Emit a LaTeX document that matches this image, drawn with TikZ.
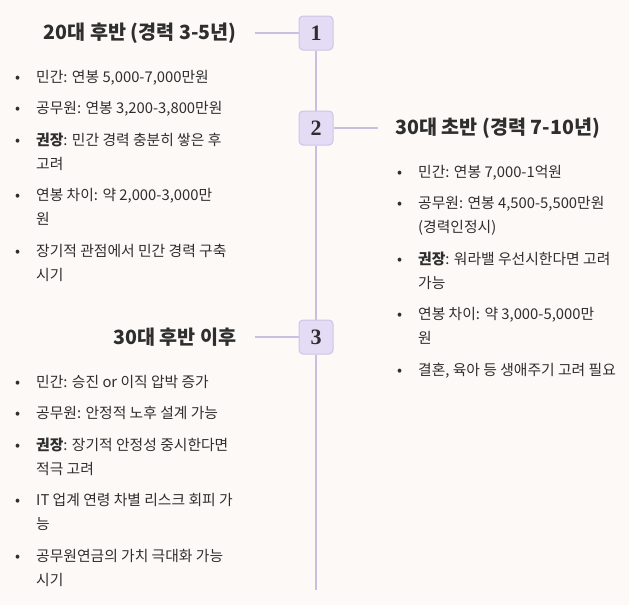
\documentclass[tikz,border=0pt]{standalone}
\usepackage{fontspec}
\setmainfont{Noto Sans CJK KR}
\newfontfamily\numfont{Liberation Serif}
\usetikzlibrary{positioning,backgrounds}

\definecolor{pagebg}{HTML}{FDF9F7}
\definecolor{boxfill}{HTML}{E3DCF4}
\definecolor{boxline}{HTML}{CFC4E8}
\definecolor{linkc}{HTML}{C9BFE0}
\definecolor{ink}{HTML}{2E2E2E}

% bullet and hanging indent for the item lines
\newcommand{\bl}{\makebox[21pt][l]{•}}
\newcommand{\ind}{\hspace*{21pt}}

\begin{document}
\begin{tikzpicture}[
  x=1pt, y=-1pt,
  every node/.style={align=left, text=ink},
  num/.style={draw=boxline, fill=boxfill, rounded corners=4pt, line width=1pt, minimum size=34pt, inner sep=0pt, font=\numfont\bfseries\fontsize{22}{22}\selectfont},
  head/.style={inner sep=0pt, outer xsep=18pt, font=\bfseries\fontsize{19.6}{19.6}\selectfont},
  items/.style={inner sep=0pt, anchor=north west, font=\fontsize{14.8}{24}\selectfont},
  link/.style={draw=linkc, line width=2pt},
]
% timeline steps
\node[num] (num1) at (316,33) {1};
\node[num, below=60pt of num1] (num2) {2};
\node[num, below=174pt of num2] (num3) {3};
\coordinate (tail) at (316,590);

\node[head, left=44pt of num1] (h1) {20대 후반 (경력 3-5년)};
\node[head, right=44pt of num2] (h2) {30대 초반 (경력 7-10년)};
\node[head, left=44pt of num3] (h3) {30대 후반 이후};

% item lists
\node[items] (l1) at (15,70) {%
\bl 민간: 연봉 5,000-7,000만원\\[7.5pt]
\bl 공무원: 연봉 3,200-3,800만원\\[7.5pt]
\bl \textbf{권장}: 민간 경력 충분히 쌓은 후\\
\ind 고려\\[7.5pt]
\bl 연봉 차이: 약 2,000-3,000만\\
\ind 원\\[7.5pt]
\bl 장기적 관점에서 민간 경력 구축\\
\ind 시기};

\node[items] (l2) at (397,165) {%
\bl 민간: 연봉 7,000-1억원\\[7.5pt]
\bl 공무원: 연봉 4,500-5,500만원\\
\ind (경력인정시)\\[7.5pt]
\bl \textbf{권장}: 워라밸 우선시한다면 고려\\
\ind 가능\\[7.5pt]
\bl 연봉 차이: 약 3,000-5,000만\\
\ind 원\\[7.5pt]
\bl 결혼, 육아 등 생애주기 고려 필요};

\node[items] (l3) at (15,375) {%
\bl 민간: 승진 or 이직 압박 증가\\[7.5pt]
\bl 공무원: 안정적 노후 설계 가능\\[7.5pt]
\bl \textbf{권장}: 장기적 안정성 중시한다면\\
\ind 적극 고려\\[7.5pt]
\bl IT 업계 연령 차별 리스크 회피 가\\
\ind 능\\[7.5pt]
\bl 공무원연금의 가치 극대화 가능\\
\ind 시기};

\begin{scope}[on background layer]
\fill[pagebg] (0,0) rectangle (629,605);
\draw[link] (num1) -- (num2);
\draw[link] (num2) -- (num3);
\draw[link] (num3) -- (tail);
\draw[link] (h1) -- (num1);
\draw[link] (h2) -- (num2);
\draw[link] (h3) -- (num3);
\end{scope}
\end{tikzpicture}
\end{document}
